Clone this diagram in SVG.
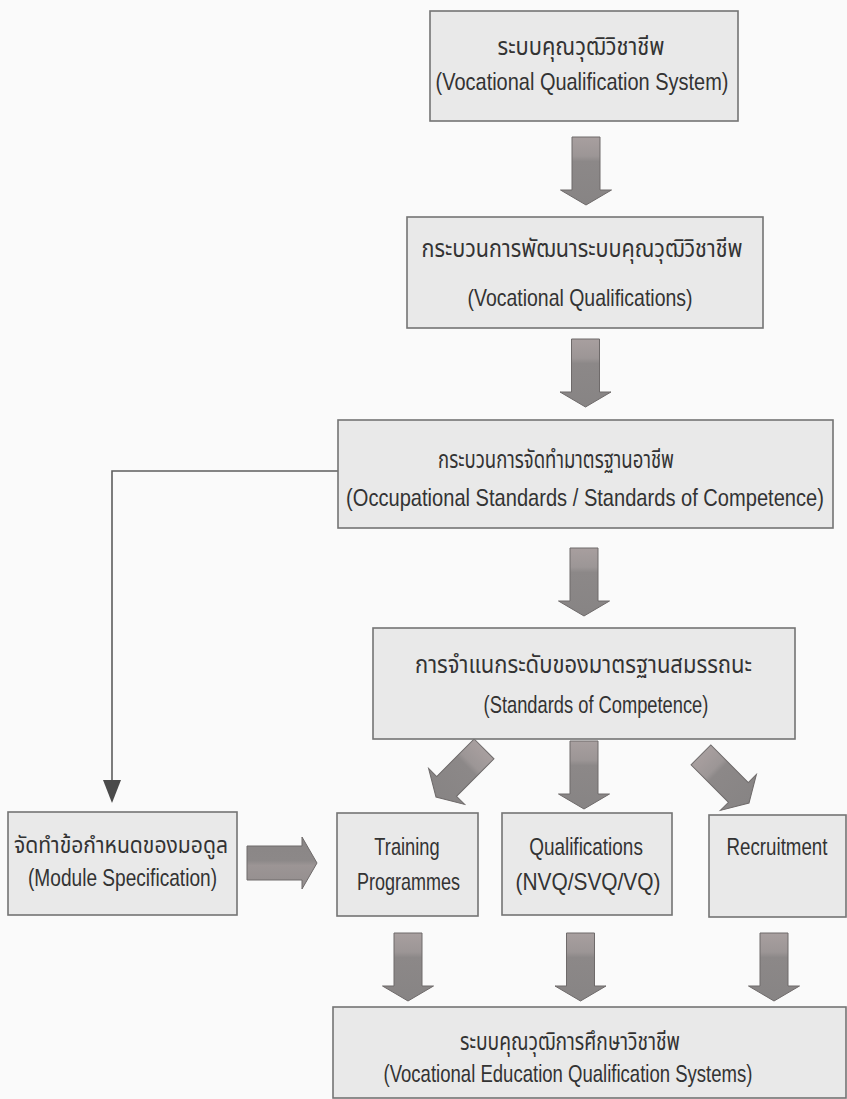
<svg xmlns="http://www.w3.org/2000/svg" width="847" height="1099" viewBox="0 0 847 1099">
<defs>
<linearGradient id="ag" x1="0" y1="0" x2="0" y2="1">
<stop offset="0" stop-color="#a89f9f"/>
<stop offset="0.28" stop-color="#9c9696"/>
<stop offset="0.36" stop-color="#8c8888"/>
<stop offset="1" stop-color="#878484"/>
</linearGradient>
<linearGradient id="agh" x1="0" y1="0" x2="0" y2="1">
<stop offset="0" stop-color="#8a8686"/>
<stop offset="0.45" stop-color="#8c8888"/>
<stop offset="0.55" stop-color="#9c9595"/>
<stop offset="1" stop-color="#928d8d"/>
</linearGradient>
<path id="arr" d="M-14,-68 H14 V-15 H25.5 L0,0 L-25.5,-15 H-14 Z"/>
<style>
.box{fill:#e9e9e9;stroke:#747474;stroke-width:1.6}
.th{font-family:"Noto Sans Thai","Noto Sans","DejaVu Sans",sans-serif;font-size:24px;fill:#333;text-anchor:middle}
.en{font-family:"Liberation Sans",Arial,sans-serif;font-size:24px;fill:#333;text-anchor:middle}
.ar{fill:url(#ag);stroke:#6e6a6a;stroke-width:1}
.ln{fill:none;stroke:#5e5e5e;stroke-width:1.6}
.hd{fill:#4a4a4a}
</style>
</defs>
<rect width="847" height="1099" fill="#fafafa"/>

<g id="connectors">
<use href="#arr" class="ar" transform="translate(586,205)"/>
<use href="#arr" class="ar" transform="translate(585.5,407)"/>
<use href="#arr" class="ar" transform="translate(584,616)"/>
<use href="#arr" class="ar" transform="translate(436,797) rotate(45)"/>
<use href="#arr" class="ar" transform="translate(584,809)"/>
<use href="#arr" class="ar" transform="translate(749,803) rotate(-45)"/>
<use href="#arr" class="ar" transform="translate(408,1001)"/>
<use href="#arr" class="ar" transform="translate(580.5,1001)"/>
<use href="#arr" class="ar" transform="translate(774,1001)"/>
<path d="M247,846 H302 V837 L317,863 L302,889 V880 H247 Z" fill="url(#agh)" stroke="#6e6a6a" stroke-width="1"/>
<path class="ln" d="M338,471 H112 V782"/>
<path class="hd" d="M103,780 H121 L112,803 Z"/>
</g>

<g id="n1">
<rect class="box" x="430" y="11" width="308" height="110"/>
<text class="th" x="581" y="55" textLength="167" lengthAdjust="spacingAndGlyphs">ระบบคุณวุฒิวิชาชีพ</text>
<text class="en" transform="translate(582,90) scale(0.832,1)">(Vocational Qualification System)</text>
</g>

<g id="n2">
<rect class="box" x="407" y="217" width="356" height="111"/>
<text class="th" x="582" y="257" textLength="321" lengthAdjust="spacingAndGlyphs">กระบวนการพัฒนาระบบคุณวุฒิวิชาชีพ</text>
<text class="en" transform="translate(580,306) scale(0.811,1)">(Vocational Qualifications)</text>
</g>

<g id="n3">
<rect class="box" x="338" y="420" width="495" height="108"/>
<text class="th" x="556" y="468" textLength="236" lengthAdjust="spacingAndGlyphs">กระบวนการจัดทำมาตรฐานอาชีพ</text>
<text class="en" transform="translate(585,506) scale(0.837,1)">(Occupational Standards / Standards of Competence)</text>
</g>

<g id="n4">
<rect class="box" x="373" y="628" width="422" height="111"/>
<text class="th" x="583.5" y="673" textLength="337" lengthAdjust="spacingAndGlyphs">การจำแนกระดับของมาตรฐานสมรรถนะ</text>
<text class="en" transform="translate(596,713) scale(0.763,1)">(Standards of Competence)</text>
</g>

<g id="n5">
<rect class="box" x="8" y="812" width="229" height="103"/>
<text class="th" x="121" y="853" textLength="214" lengthAdjust="spacingAndGlyphs" style="font-size:23px">จัดทำข้อกำหนดของมอดูล</text>
<text class="en" transform="translate(122.5,886) scale(0.796,1)">(Module Specification)</text>
</g>

<g id="n6">
<rect class="box" x="337" y="813" width="141" height="103"/>
<text class="en" transform="translate(407,855) scale(0.761,1)">Training</text>
<text class="en" transform="translate(408.5,890) scale(0.75,1)">Programmes</text>
</g>

<g id="n7">
<rect class="box" x="502" y="813" width="170" height="102"/>
<text class="en" transform="translate(586,855) scale(0.79,1)">Qualifications</text>
<text class="en" transform="translate(588,890) scale(0.87,1)">(NVQ/SVQ/VQ)</text>
</g>

<g id="n8">
<rect class="box" x="709" y="815" width="137" height="102"/>
<text class="en" transform="translate(777,855) scale(0.78,1)">Recruitment</text>
</g>

<g id="n9">
<rect class="box" x="333" y="1007" width="513" height="91"/>
<text class="th" x="570" y="1050" textLength="220" lengthAdjust="spacingAndGlyphs">ระบบคุณวุฒิการศึกษาวิชาชีพ</text>
<text class="en" transform="translate(568,1082) scale(0.773,1)">(Vocational Education Qualification Systems)</text>
</g>
</svg>
